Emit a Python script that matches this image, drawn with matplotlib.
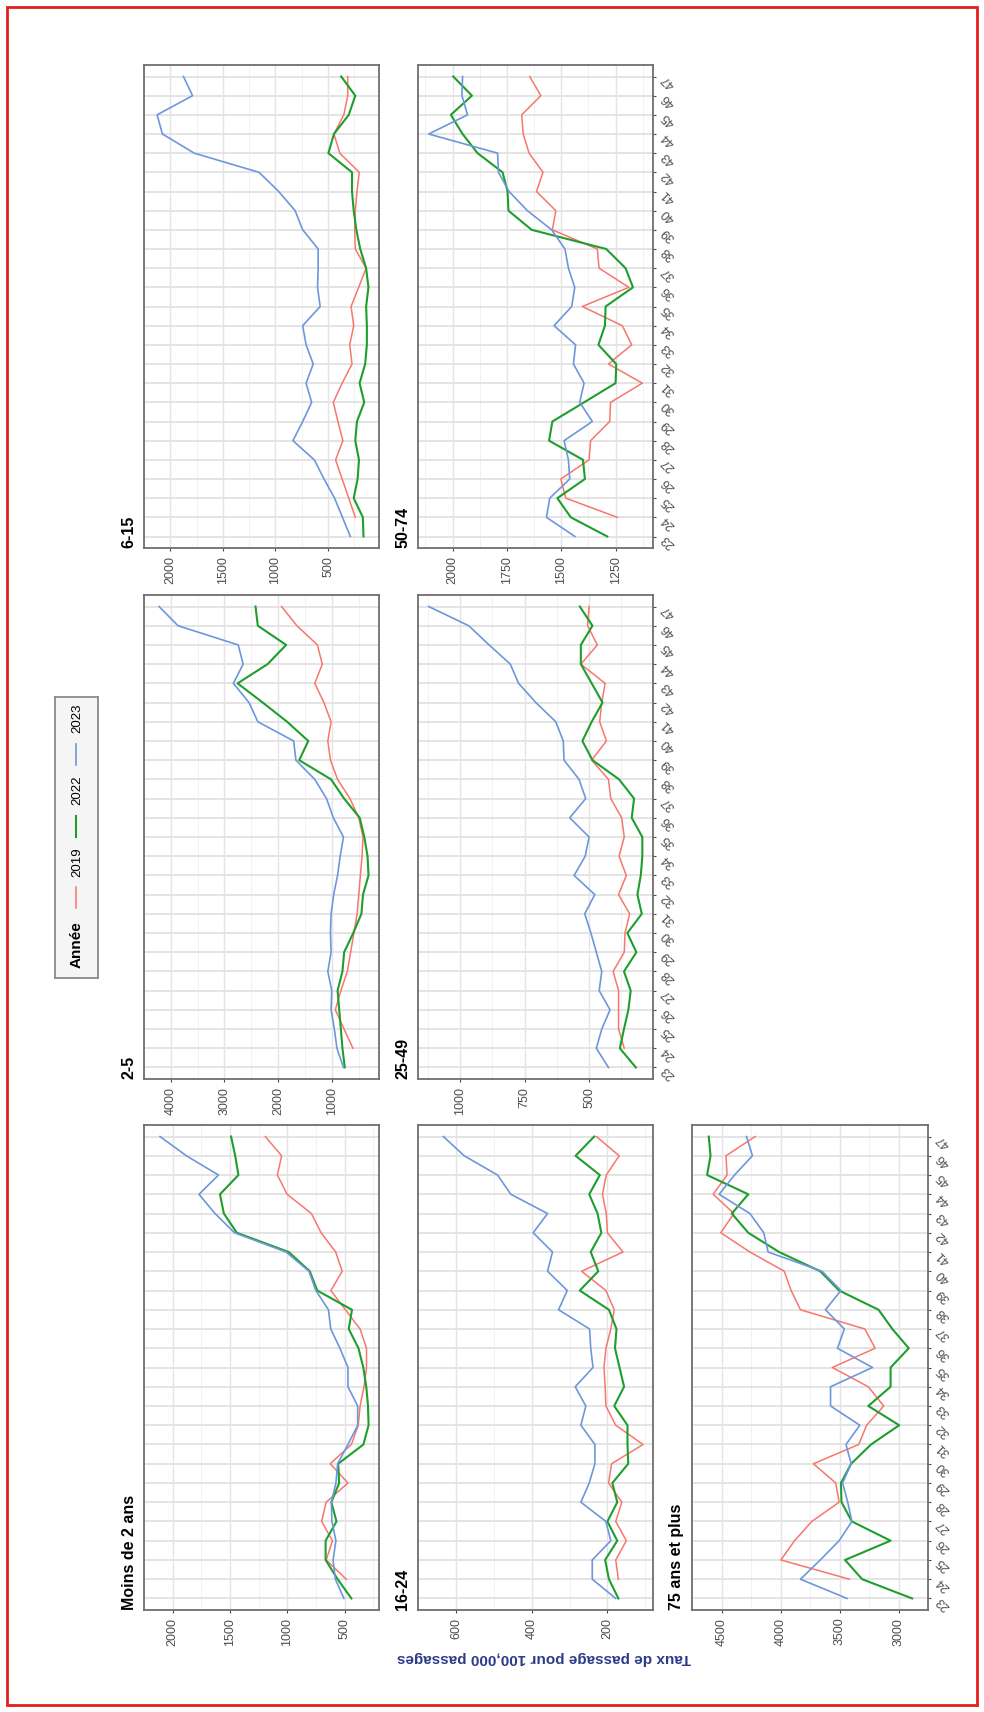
import matplotlib.pyplot as plt
from matplotlib.patches import Rectangle

plt.rcParams['font.family'] = ['Liberation Sans', 'DejaVu Sans']

# canvas size in pixels (dpi 100)
W, H = 984, 1712

# semaines (2019 starts one week later)
weeks = list(range(23, 48))
weeks_2019 = list(range(24, 48))
years = ['2019', '2022', '2023']
colors = {'2019': '#F8766D', '2022': '#1E9E2C', '2023': '#6D97DC'}
widths = {'2019': 1.1, '2022': 1.5, '2023': 1.2}

# %% data (taux pour 100,000 passages)
moins2_2019 = [485, 660, 605, 700, 660, 470, 625, 440, 380, 364, 330, 308, 308, 364,
               492, 619, 520, 577, 704, 789, 1001, 1086, 1049, 1191]
moins2_2022 = [440, 560, 665, 665, 570, 615, 547, 555, 335, 290, 295, 310, 336, 378,
               463, 435, 738, 803, 987, 1440, 1553, 1587, 1426, 1454, 1490]
moins2_2023 = [505, 580, 600, 575, 610, 615, 575, 560, 470, 385, 385, 470, 470, 540,
               620, 640, 750, 810, 1010, 1460, 1630, 1770, 1600, 1880, 2110]

a2_5_2019 = [605, 770, 933, 830, 709, 648, 587, 526, 496, 466, 435, 417, 496, 660,
             891, 1024, 1073, 1012, 1146, 1316, 1176, 1267, 1650, 1935]
a2_5_2022 = [757, 800, 830, 860, 891, 800, 769, 599, 447, 417, 314, 332, 393, 478,
             769, 1012, 1607, 1437, 1832, 2287, 2755, 2196, 1850, 2378, 2421]
a2_5_2023 = [781, 903, 951, 1012, 1000, 1073, 1012, 1024, 1012, 964, 891, 842, 781, 970,
             1097, 1316, 1668, 1710, 2378, 2542, 2834, 2652, 2743, 3866, 4219]

a6_15_2019 = [241, 303, 366, 428, 359, 406, 450, 366, 272, 294, 256, 281, 209, 138,
              241, 247, 241, 225, 203, 388, 444, 350, 313, 313]
a6_15_2022 = [163, 169, 256, 219, 206, 241, 225, 156, 200, 147, 131, 131, 138, 116,
              138, 194, 231, 256, 272, 272, 497, 444, 303, 241, 375]
a6_15_2023 = [288, 363, 438, 538, 631, 834, 741, 656, 709, 641, 709, 741, 575, 600,
              594, 594, 741, 813, 969, 1156, 1772, 2075, 2125, 1788, 1875]

a16_24_2019 = [171, 178, 150, 178, 162, 197, 189, 106, 178, 204, 206, 209, 204, 191,
               182, 204, 268, 159, 200, 203, 213, 203, 169, 229]
a16_24_2022 = [171, 196, 206, 174, 200, 174, 187, 145, 147, 147, 182, 156, 168, 180,
               176, 196, 273, 224, 244, 216, 226, 248, 220, 284, 235]
a16_24_2023 = [178, 240, 240, 191, 204, 270, 248, 233, 233, 270, 257, 285, 238, 244,
               247, 329, 306, 358, 345, 396, 358, 455, 490, 578, 633]

a25_49_2019 = [364, 386, 386, 386, 407, 364, 361, 343, 386, 356, 384, 364, 374, 416,
               425, 490, 433, 459, 451, 438, 532, 468, 506, 500]
a25_49_2022 = [319, 381, 365, 348, 339, 365, 317, 352, 296, 313, 300, 294, 294, 335,
               326, 384, 487, 526, 490, 448, 490, 532, 532, 487, 536]
a25_49_2023 = [425, 472, 451, 419, 461, 451, 472, 493, 517, 478, 558, 515, 500, 575,
               513, 539, 597, 600, 629, 706, 773, 805, 887, 966, 1121]

a50_74_2019 = [1242, 1479, 1502, 1372, 1365, 1277, 1273, 1127, 1283, 1176, 1219, 1403,
               1189, 1326, 1334, 1541, 1525, 1614, 1584, 1648, 1675, 1682, 1594, 1645]
a50_74_2022 = [1288, 1456, 1518, 1391, 1400, 1556, 1541, 1395, 1250, 1247, 1329, 1299,
               1296, 1170, 1204, 1293, 1636, 1743, 1747, 1770, 1885, 1954, 2008, 1911, 1997]
a50_74_2023 = [1437, 1568, 1553, 1461, 1467, 1487, 1357, 1415, 1395, 1444, 1434, 1533,
               1452, 1438, 1467, 1483, 1544, 1656, 1740, 1789, 1793, 2110, 1931, 1957, 1954]

a75_2019 = [3416, 3997, 3881, 3735, 3503, 3532, 3721, 3337, 3270, 3125, 3256, 3561,
            3198, 3285, 3831, 3910, 3968, 4259, 4506, 4395, 4570, 4453, 4462, 4215]
a75_2022 = [2884, 3308, 3453, 3067, 3395, 3483, 3488, 3401, 3233, 2994, 3256, 3067,
            3067, 2913, 3052, 3169, 3503, 3663, 4012, 4273, 4413, 4273, 4622, 4593, 4608]
a75_2023 = [3436, 3831, 3663, 3503, 3395, 3430, 3474, 3401, 3445, 3328, 3576, 3576,
            3221, 3517, 3459, 3619, 3488, 3648, 4105, 4142, 4259, 4520, 4390, 4238, 4288]

groups = ['Moins de 2 ans', '2-5', '6-15', '16-24', '25-49', '50-74', '75 ans et plus']
series = {
    'Moins de 2 ans': (moins2_2019, moins2_2022, moins2_2023),
    '2-5': (a2_5_2019, a2_5_2022, a2_5_2023),
    '6-15': (a6_15_2019, a6_15_2022, a6_15_2023),
    '16-24': (a16_24_2019, a16_24_2022, a16_24_2023),
    '25-49': (a25_49_2019, a25_49_2022, a25_49_2023),
    '50-74': (a50_74_2019, a50_74_2022, a50_74_2023),
    '75 ans et plus': (a75_2019, a75_2022, a75_2023),
}
value_ticks = {
    'Moins de 2 ans': [500, 1000, 1500, 2000],
    '2-5': [1000, 2000, 3000, 4000],
    '6-15': [500, 1000, 1500, 2000],
    '16-24': [200, 400, 600],
    '25-49': [500, 750, 1000],
    '50-74': [1250, 1500, 1750, 2000],
    '75 ans et plus': [3000, 3500, 4000, 4500],
}

# %% layout (the figure is the ggplot facet grid turned a quarter turn)
cols = [(144, 379), (418, 653), (692, 928)]
rows = [(65, 548), (595, 1079), (1125, 1610)]
# group -> (col, row, week labels shown)
place = {
    '6-15': (0, 0, False), '2-5': (0, 1, False), 'Moins de 2 ans': (0, 2, False),
    '50-74': (1, 0, True), '25-49': (1, 1, True), '16-24': (1, 2, False),
    '75 ans et plus': (2, 2, True),
}

fig = plt.figure(figsize=(W / 100, H / 100), dpi=100)


def px_axes(l, t, r, b):
    return fig.add_axes([l / W, 1 - b / H, (r - l) / W, (b - t) / H])


for g in groups:
    c, r, show_weeks = place[g]
    l, rr = cols[c]
    t, b = rows[r]
    ax = px_axes(l, t, rr, b)
    v19, v22, v23 = series[g]
    ax.plot(v19, weeks_2019, color=colors['2019'], lw=widths['2019'])
    ax.plot(v22, weeks, color=colors['2022'], lw=widths['2022'])
    ax.plot(v23, weeks, color=colors['2023'], lw=widths['2023'])

    allv = v19 + v22 + v23
    lo, hi = min(allv), max(allv)
    pad = 0.05 * (hi - lo)
    ax.set_xlim(hi + pad, lo - pad)
    ax.set_ylim(22.4, 47.6)

    ticks = value_ticks[g]
    step = ticks[1] - ticks[0]
    minor = [ticks[0] - step / 2] + [tk + step / 2 for tk in ticks]
    ax.set_xticks(ticks)
    ax.set_xticklabels([str(tk) for tk in ticks])
    ax.set_xticks(minor, minor=True)
    ax.set_yticks(weeks)
    ax.set_yticklabels([str(w) for w in weeks])

    ax.grid(axis='y', color='#E4E4E4', lw=1.4)
    ax.grid(axis='x', which='major', color='#E4E4E4', lw=1.0)
    ax.grid(axis='x', which='minor', color='#F0F0F0', lw=0.6)
    ax.set_axisbelow(True)

    ax.tick_params(axis='x', which='major', labelsize=9, labelcolor='#4D4D4D',
                   color='#4D4D4D', length=2.5, labelrotation=90, pad=3)
    ax.tick_params(axis='x', which='minor', length=0)
    ax.yaxis.tick_right()
    ax.tick_params(axis='y', labelsize=9, labelcolor='#4D4D4D', color='#4D4D4D',
                   length=2.5 if show_weeks else 0, labelright=show_weeks,
                   labelleft=False, pad=2)
    if show_weeks:
        for lab in ax.get_yticklabels():
            lab.set_rotation(135)
    for sp in ax.spines.values():
        sp.set_color('#6E6E6E')
        sp.set_linewidth(1.3)

    fig.text((l - 15) / W, 1 - b / H, g, rotation=90, ha='center', va='bottom',
             fontsize=11.5, fontweight='bold', color='black')

# %% legend (turned as well)
leg = px_axes(55, 697, 98, 978)
leg.set_xlim(55, 98)
leg.set_ylim(978, 697)
leg.set_facecolor('#F5F5F5')
leg.set_xticks([])
leg.set_yticks([])
for sp in leg.spines.values():
    sp.set_color('#8A8A8A')
    sp.set_linewidth(1.3)
leg.text(77, 968, 'Année', rotation=90, ha='center', va='bottom',
         fontsize=11, fontweight='bold')
key_pos = {'2019': (908, 877), '2022': (837, 805), '2023': (765, 733)}
for yr in years:
    y0, yt = key_pos[yr]
    leg.plot([76, 76], [y0, y0 - 21], color=colors[yr], lw=widths[yr])
    leg.text(77, yt, yr, rotation=90, ha='center', va='bottom', fontsize=9.5)

# axis title, upside down like the rest of the rotated page
fig.text(544 / W, 1 - 1658 / H, 'Taux de passage pour 100,000 passages', rotation=180,
         ha='center', va='center', fontsize=11, fontweight='bold', color='#2B3A8A')

# red frame
fig.patches.append(Rectangle((7 / W, 7 / H), (W - 14) / W, (H - 14) / H,
                             transform=fig.transFigure, fill=False,
                             edgecolor='#E0201E', lw=2))

fig.savefig('out.png', dpi=100)
